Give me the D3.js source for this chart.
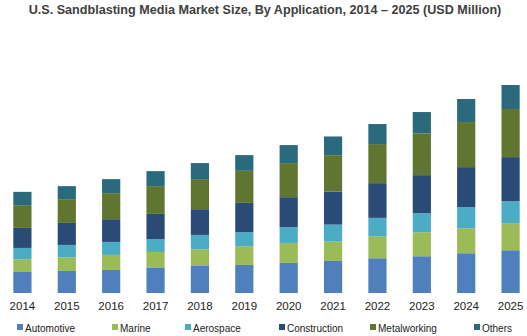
<!DOCTYPE html>
<meta charset="utf-8">
<style>
body { margin: 0; background: #fff; }
svg { font-family: "Liberation Sans", Arial, sans-serif; }
.title { font-weight: bold; font-size: 12.6px; fill: #404040; }
.tick text { font-size: 11.5px; fill: #222; }
.legend text { font-size: 10px; fill: #222; }
</style>
<body>
<script src="https://d3js.org/d3.v7.min.js"></script>
<script>

// years and series (USD Million)
var years = ["2014","2015","2016","2017","2018","2019","2020","2021","2022","2023","2024","2025"];
var series = ["Automotive","Marine","Aerospace","Construction","Metalworking","Others"];
var automotive   = [21, 22, 23, 25, 27, 28, 30, 32, 34.7, 36.7, 39.7, 42.7];
var marine       = [12.7, 13.7, 15, 16, 16.7, 18.7, 20, 19.3, 22, 24, 25, 27];
var aerospace    = [11.3, 12.3, 13, 12.7, 14.3, 14, 15.7, 17, 18.3, 19, 21, 22];
var construction = [20, 22, 22.7, 25.3, 25.7, 29.3, 30, 33, 34.7, 38, 40, 44];
var metalworking = [22.7, 23.7, 26, 27.7, 30, 32, 34, 36.3, 39, 41.7, 45, 48];
var others       = [13.3, 13, 14, 15, 16, 15.7, 18, 18.7, 20, 21.3, 23, 24];
var colors = ["#4f80bd", "#9bbb59", "#4bacc6", "#2b4b77", "#5f7530", "#2a6a7c"];

var values = [automotive, marine, aerospace, construction, metalworking, others];
var data = years.map(function(y, i) {
  var row = {year: y};
  series.forEach(function(s, j) { row[s] = values[j][i]; });
  return row;
});

var width = 527, height = 336;
var svg = d3.select("body").append("svg")
    .attr("width", width)
    .attr("height", height);

svg.append("text")
    .attr("class", "title")
    .attr("x", 265)
    .attr("y", 14)
    .attr("text-anchor", "middle")
    .text("U.S. Sandblasting Media Market Size, By Application, 2014 \u2013 2025 (USD Million)");

var x = d3.scaleBand()
    .domain(years)
    .range([0, 533])
    .paddingInner(0.59)
    .paddingOuter(0.3);

var y = d3.scaleLinear()
    .domain([0, 207.7])
    .range([293, 85]);

var stack = d3.stack().keys(series)(data);

svg.selectAll(".layer")
    .data(stack)
    .enter().append("g")
    .attr("class", "layer")
    .attr("fill", function(d, i) { return colors[i]; })
  .selectAll("rect")
    .data(function(d) { return d; })
    .enter().append("rect")
    .attr("x", function(d) { return x(d.data.year); })
    .attr("width", x.bandwidth())
    .attr("y", function(d) { return y(d[1]); })
    .attr("height", function(d) { return y(d[0]) - y(d[1]); });

svg.append("g")
    .attr("transform", "translate(0,293)")
    .call(d3.axisBottom(x).tickSize(0).tickPadding(9))
    .call(function(g) { g.select(".domain").remove(); });

// legend
var legendX = [17, 112, 185, 279, 370, 474];
var legend = svg.selectAll(".legend")
    .data(series)
    .enter().append("g")
    .attr("class", "legend")
    .attr("transform", function(d, i) { return "translate(" + legendX[i] + ",324)"; });

legend.append("rect")
    .attr("width", 6)
    .attr("height", 6)
    .attr("fill", function(d, i) { return colors[i]; });

legend.append("text")
    .attr("x", 8)
    .attr("y", 7.5)
    .text(function(d) { return d; });

</script>
</body>
